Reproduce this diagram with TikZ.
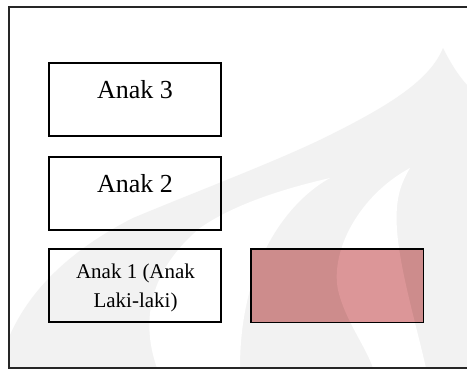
\documentclass[tikz,border=0pt]{standalone}
\usepackage{fontspec}
\setmainfont{Liberation Serif}
\definecolor{wmgray}{RGB}{242,242,242}
\definecolor{pinkbox}{RGB}{205,140,140}
\definecolor{pinklight}{RGB}{220,150,152}
\begin{document}
\begin{tikzpicture}[x=1pt,y=-1pt,
  childbox/.style={draw=black,line width=1.4pt,rectangle,minimum width=172pt,minimum height=73pt,inner sep=0pt},
  bigtext/.style={font=\fontsize{26}{31}\selectfont,inner sep=0pt},
  smalltext/.style={font=\fontsize{21}{28.5}\selectfont,inner sep=0pt,align=center}]
\useasboundingbox (0,0) rectangle (467,370);
\fill[white] (0,0) rectangle (467,370);
% watermark
\fill[wmgray] (10,335) .. controls (30,290) and (70,250) .. (133,218)
  .. controls (200,190) and (280,160) .. (330,135)
  .. controls (390,105) and (430,80) .. (443,48)
  .. controls (450,62) and (458,75) .. (467,85)
  -- (467,368) -- (10,368) -- cycle;
\fill[white] (157,368) .. controls (140,320) and (150,270) .. (200,228)
  .. controls (240,200) and (300,185) .. (330,178)
  .. controls (290,200) and (240,260) .. (240,368) -- cycle;
\fill[white] (410,168) .. controls (360,195) and (330,250) .. (338,290)
  .. controls (345,320) and (365,345) .. (373,368)
  -- (426,368) .. controls (415,320) and (400,270) .. (397,230)
  .. controls (395,200) and (400,185) .. (410,168) -- cycle;
% frame
\draw[line width=1.2pt,black!85] (470,7) -- (9,7) -- (9,368) -- (470,368);
% boxes
\node[childbox] (b3) at (135,99.5) {};
\node[childbox] (b2) at (135,193.5) {};
\node[childbox] (b1) at (135,285.5) {};
\node[rectangle,minimum width=172pt,minimum height=73pt,inner sep=0pt,fill=pinkbox] (pk) at (337,285.5) {};
\begin{scope}
\clip (251,249) rectangle (423,322);
\fill[pinklight] (410,168) .. controls (360,195) and (330,250) .. (338,290)
  .. controls (345,320) and (365,345) .. (373,368)
  -- (426,368) .. controls (415,320) and (400,270) .. (397,230)
  .. controls (395,200) and (400,185) .. (410,168) -- cycle;
\end{scope}
\draw[line width=1.4pt,black] (pk.north west) rectangle (pk.south east);
% texts
\node[bigtext,anchor=base] (t3) at (135,98) {Anak 3};
\node[bigtext,anchor=base] (t2) at (135,192) {Anak 2};
\node[smalltext,anchor=base] (t1) at (135.5,307) {Anak 1 (Anak\\Laki-laki)};
\end{tikzpicture}
\end{document}
